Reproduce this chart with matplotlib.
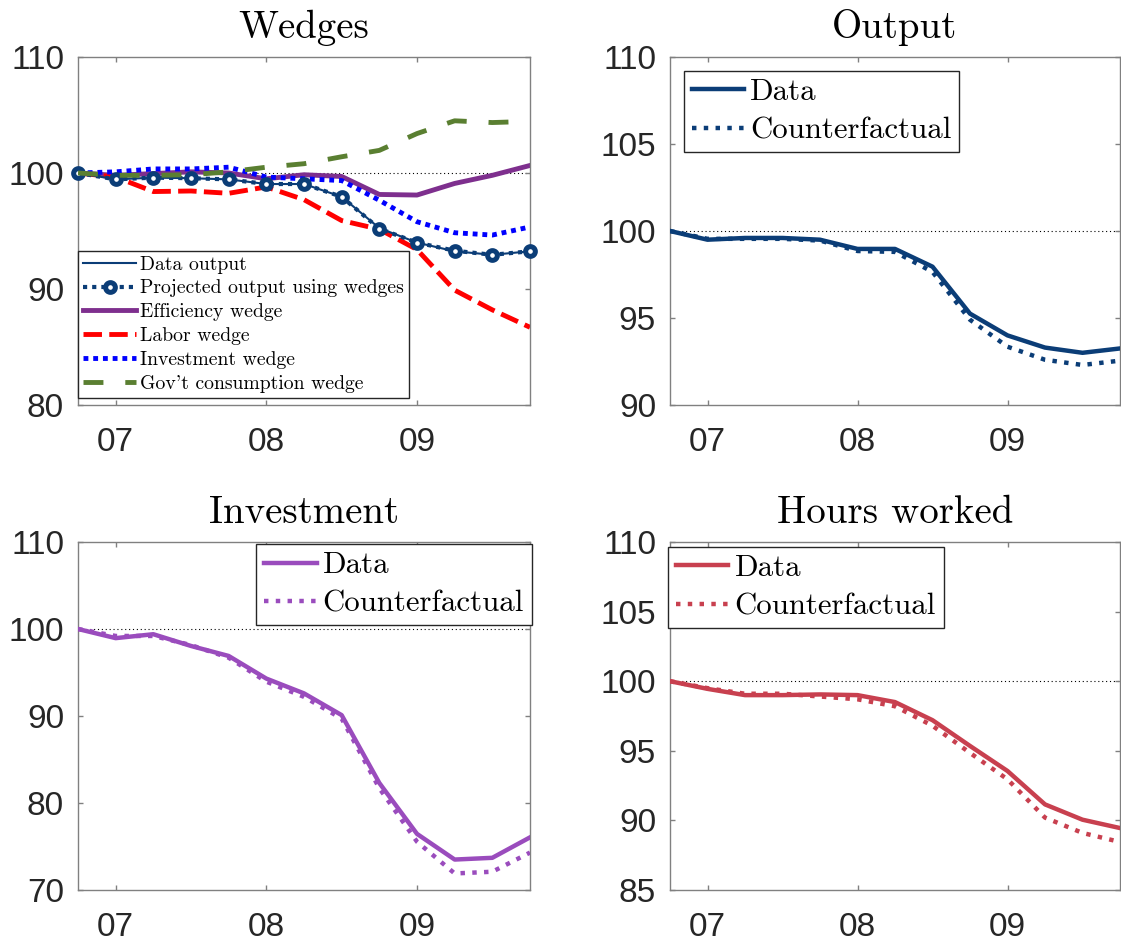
"""Wedges decomposition, 2006Q4-2009Q4: four panels (wedges, output, investment, hours)."""

import matplotlib
matplotlib.use('Agg')

import matplotlib.pyplot as plt
import numpy as np

# ── Data (index, 2006Q4 = 100) ───────────────────────────────────────────────
QUARTERS = np.arange(13)          # 2006Q4 ... 2009Q4
YEAR_TICKS = [1, 5, 9]
YEAR_LABELS = ['07', '08', '09']

data_output = [100, 99.45, 99.6, 99.55, 99.45, 99.05, 99.05, 97.95, 95.25, 94.0, 93.25, 92.95, 93.25]
projected_output = [100, 99.45, 99.6, 99.55, 99.45, 99.05, 99.05, 97.95, 95.2, 94.0, 93.3, 92.95, 93.25]
efficiency_wedge = [100, 99.8, 99.95, 100.1, 100.0, 99.5, 99.85, 99.7, 98.15, 98.1, 99.1, 99.8, 100.65]
labor_wedge = [100, 99.65, 98.4, 98.45, 98.25, 98.8, 97.7, 95.9, 95.15, 93.4, 89.9, 88.2, 86.7]
investment_wedge = [100, 100.1, 100.35, 100.35, 100.5, 99.65, 99.5, 99.35, 97.65, 95.8, 94.85, 94.65, 95.35]
gov_wedge = [100, 99.8, 99.8, 99.85, 100.1, 100.5, 100.8, 101.4, 101.95, 103.4, 104.5, 104.35, 104.45]

output_data = [100, 99.5, 99.6, 99.6, 99.5, 98.97, 98.97, 97.95, 95.25, 94.0, 93.3, 93.0, 93.25]
output_cf = [100, 99.55, 99.55, 99.55, 99.45, 98.85, 98.8, 97.65, 94.9, 93.35, 92.6, 92.3, 92.55]

invest_data = [100, 98.95, 99.4, 98.05, 96.9, 94.3, 92.6, 90.1, 82.3, 76.45, 73.5, 73.7, 76.05]
invest_cf = [100, 99.2, 99.2, 98.15, 96.7, 93.95, 92.2, 89.7, 81.7, 75.55, 71.9, 72.1, 74.3]

hours_data = [100, 99.45, 99.0, 99.0, 99.05, 99.0, 98.5, 97.2, 95.35, 93.55, 91.15, 90.05, 89.45]
hours_cf = [100, 99.5, 99.1, 99.1, 98.9, 98.7, 98.2, 96.8, 94.85, 92.95, 90.2, 89.1, 88.45]

# ── Style ────────────────────────────────────────────────────────────────────
NAVY = '#0b3d77'
PURPLE_DARK = '#7e2f8e'
PURPLE = '#9a4cbd'
CRIMSON = '#c8404f'
GREEN = '#5a7f31'
SPINE = '#808080'
TICK_TXT = '#262626'

TEX = ['cmr10', 'DejaVu Serif']
plt.rcParams['font.family'] = ['Liberation Sans', 'DejaVu Sans']
plt.rcParams['axes.unicode_minus'] = False

W, H = 1121, 949


def _axes(fig, left, top, right, bottom):
    return fig.add_axes([left / W, 1 - bottom / H, (right - left) / W, (bottom - top) / H])


def _style(ax, title, ylim, yticks):
    ax.set_xlim(QUARTERS[0], QUARTERS[-1])
    ax.set_ylim(*ylim)
    ax.set_xticks(YEAR_TICKS)
    ax.set_xticklabels(YEAR_LABELS)
    ax.set_yticks(yticks)
    ax.axhline(100, color='black', lw=0.8, linestyle=(0, (1, 2.5)), zorder=1)
    for sp in ax.spines.values():
        sp.set_color(SPINE)
        sp.set_linewidth(1.0)
    ax.tick_params(direction='in', length=3.5, width=1.0, color=SPINE,
                   top=True, right=True, labelsize=24, labelcolor=TICK_TXT)
    ax.tick_params(axis='x', pad=16)
    ax.tick_params(axis='y', pad=10)
    ax.set_title(title, family=TEX, fontsize=28, pad=14)


def _legend(ax, loc, anchor, fontsize, handlelength, labelspacing):
    leg = ax.legend(loc=loc, bbox_to_anchor=anchor, borderaxespad=0,
                    prop={'family': TEX, 'size': fontsize},
                    handlelength=handlelength, handletextpad=0.2,
                    labelspacing=labelspacing, borderpad=0.25,
                    fancybox=False, framealpha=1, edgecolor='#262626')
    leg.get_frame().set_linewidth(1.0)
    leg.set_zorder(10)
    return leg


def main() -> None:
    fig = plt.figure(figsize=(W / 100, H / 100), dpi=100)

    # ── Wedges ───────────────────────────────────────────────────────────────
    ax = _axes(fig, 78, 57, 530, 405)
    ax.plot(QUARTERS, data_output, color=NAVY, lw=1.5, label='Data output', zorder=3)
    ax.plot(QUARTERS, projected_output, color=NAVY, lw=3, linestyle=(0, (1, 1.2)),
            marker='o', markersize=7, markerfacecolor='white', markeredgewidth=3.6,
            label='Projected output using wedges', zorder=3, clip_on=False)
    ax.plot(QUARTERS, efficiency_wedge, color=PURPLE_DARK, lw=3.5, label='Efficiency wedge', zorder=2)
    ax.plot(QUARTERS, labor_wedge, color='#ff0000', lw=3.5, dashes=(3.8, 1.5),
            label='Labor wedge', zorder=2)
    ax.plot(QUARTERS, investment_wedge, color='#0000ff', lw=3.5, dashes=(1, 1),
            label='Investment wedge', zorder=2)
    ax.plot(QUARTERS, gov_wedge, color=GREEN, lw=3.5, dashes=(4.1, 4.5),
            label="Gov't consumption wedge", zorder=4)
    _style(ax, 'Wedges', (80, 110), [80, 90, 100, 110])
    _legend(ax, 'lower left', (0.0, 0.02), 14.2, 2.7, 0.3)

    # ── Output ───────────────────────────────────────────────────────────────
    ax = _axes(fig, 670, 57, 1120, 405)
    ax.plot(QUARTERS, output_data, color=NAVY, lw=3.2, label='Data', zorder=3)
    ax.plot(QUARTERS, output_cf, color=NAVY, lw=3.2, linestyle=':', label='Counterfactual', zorder=3)
    _style(ax, 'Output', (90, 110), [90, 95, 100, 105, 110])
    _legend(ax, 'upper left', (0.031, 0.96), 22.2, 1.7, 0.35)

    # ── Investment ───────────────────────────────────────────────────────────
    ax = _axes(fig, 78, 542, 530, 890)
    ax.plot(QUARTERS, invest_data, color=PURPLE, lw=3.2, label='Data', zorder=3)
    ax.plot(QUARTERS, invest_cf, color=PURPLE, lw=3.2, linestyle=':', label='Counterfactual', zorder=3)
    _style(ax, 'Investment', (70, 110), [70, 80, 90, 100, 110])
    _legend(ax, 'upper right', (1.004, 0.994), 22.2, 1.7, 0.35)

    # ── Hours worked ─────────────────────────────────────────────────────────
    ax = _axes(fig, 670, 542, 1120, 890)
    ax.plot(QUARTERS, hours_data, color=CRIMSON, lw=3.2, label='Data', zorder=3)
    ax.plot(QUARTERS, hours_cf, color=CRIMSON, lw=3.2, linestyle=':', label='Counterfactual', zorder=3)
    _style(ax, 'Hours worked', (85, 110), [85, 90, 95, 100, 105, 110])
    _legend(ax, 'upper left', (-0.004, 0.986), 22.2, 1.7, 0.35)

    fig.savefig('out.png', dpi=100, facecolor='white')
    plt.close(fig)


if __name__ == '__main__':
    main()
